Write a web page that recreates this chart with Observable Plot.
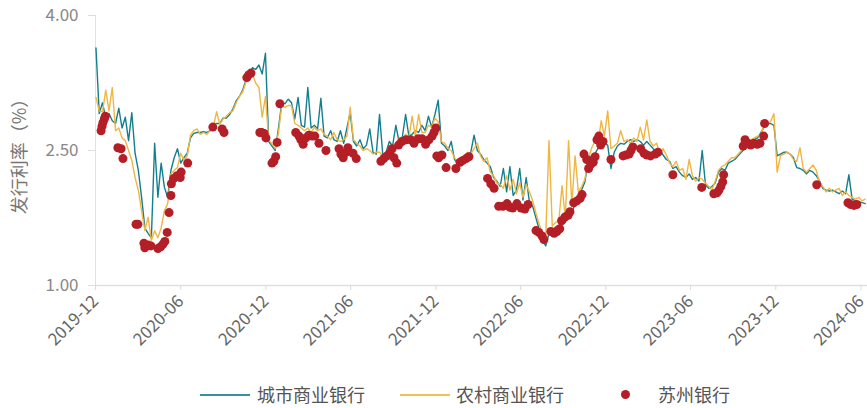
<!DOCTYPE html>
<html><head><meta charset="utf-8">
<script src="https://cdn.jsdelivr.net/npm/d3@7"></script>
<script src="https://cdn.jsdelivr.net/npm/@observablehq/plot@0.6"></script>
<style>
body{margin:0;background:#fff;font-family:"Noto Sans CJK SC","Noto Sans",sans-serif;}
#wrap{position:relative;width:867px;height:408px;overflow:hidden;}
.sw{position:absolute;height:2px;}
.lt{position:absolute;font-size:18px;color:#555;line-height:24px;white-space:nowrap;}
.dotsw{position:absolute;width:9px;height:9px;border-radius:50%;}
#ylabel{position:absolute;left:18px;top:152px;transform:translate(-50%,-50%) rotate(-90deg);font-size:18px;color:#777;white-space:nowrap;line-height:20px;}
</style></head><body>
<div id="wrap"><div id="chart"></div>
<div id="ylabel"></div>
<div id="legend"></div>
</div>
<script>
// weekly series starting 2019-12-02
const seriesNames = ["城市商业银行", "农村商业银行", "苏州银行"];
const yLabel = "发行利率（%）";
const cityBank = [
3.64,2.91,3.03,2.86,2.91,2.83,2.80,2.97,2.75,2.87,
2.61,2.92,2.47,2.28,1.98,1.64,1.58,1.53,2.58,1.98,
2.36,2.09,1.98,2.28,2.42,2.52,2.36,2.42,2.47,2.64,
2.69,2.70,2.70,2.71,2.70,2.72,2.78,2.80,2.80,2.86,
2.86,2.90,2.96,3.05,3.10,3.17,3.28,3.33,3.42,3.40,
3.45,3.35,3.58,2.60,2.55,2.50,2.75,3.03,3.02,3.07,
3.03,2.85,3.09,2.78,2.76,3.20,2.75,2.78,2.74,3.08,
2.66,2.64,2.72,2.62,2.60,2.72,2.58,2.75,2.92,2.60,
2.55,2.62,2.52,2.56,2.74,2.48,2.46,2.90,2.45,2.48,
2.60,2.55,2.78,2.60,2.65,2.90,2.66,2.68,2.72,2.70,
2.78,2.72,2.88,2.76,2.90,3.06,2.58,2.55,2.50,2.60,
2.40,2.36,2.35,2.42,2.45,2.48,2.67,2.50,2.46,2.40,
2.36,2.32,2.20,2.16,2.10,2.30,2.04,2.32,2.00,2.06,
2.30,1.95,2.20,1.92,1.88,1.75,1.62,1.50,1.44,1.58,
1.62,1.65,1.66,1.70,1.70,1.78,1.82,1.90,1.98,2.06,
2.15,2.38,2.44,2.46,2.52,2.60,2.58,2.56,2.30,2.48,
2.55,2.58,2.57,2.60,2.62,2.60,2.62,2.60,2.56,2.60,
2.56,2.52,2.48,2.50,2.45,2.40,2.38,2.30,2.32,2.26,
2.22,2.20,2.24,2.18,2.20,2.16,2.50,2.12,2.08,2.10,
2.14,2.26,2.30,2.28,2.36,2.38,2.40,2.44,2.48,2.52,
2.56,2.60,2.62,2.64,2.70,2.76,2.80,2.80,2.78,2.44,
2.46,2.48,2.48,2.46,2.42,2.31,2.30,2.28,2.24,2.28,
2.26,2.22,2.16,2.08,2.06,2.05,2.06,2.04,2.02,2.05,
2.02,2.23,1.96,1.94,1.93,1.92,1.91
];
const ruralBank = [
3.09,2.94,2.93,3.17,2.94,3.20,2.72,2.75,2.64,2.61,
2.50,2.39,2.20,2.06,1.83,1.61,1.76,1.50,1.61,1.53,
1.64,1.83,1.91,2.24,2.28,2.31,2.47,2.39,2.44,2.67,
2.72,2.74,2.68,2.70,2.68,2.72,2.76,2.93,2.79,2.85,
2.88,2.92,2.94,3.03,3.10,3.15,3.26,3.32,3.35,3.25,
3.20,2.87,3.10,2.62,2.57,2.52,2.70,3.00,2.98,3.00,
3.00,2.80,2.78,2.75,2.72,2.75,2.70,2.76,2.72,2.74,
2.68,2.66,2.62,2.70,2.62,2.60,2.62,2.66,2.98,2.62,
2.58,2.55,2.50,2.52,2.50,2.46,2.48,2.48,2.44,2.46,
2.50,2.52,2.58,2.64,2.62,2.68,2.64,2.88,2.66,2.90,
2.70,2.70,2.78,2.76,2.86,2.82,2.60,2.58,2.52,2.50,
2.42,2.38,2.40,2.44,2.48,2.46,2.52,2.58,2.44,2.38,
2.42,2.26,2.22,2.14,2.12,2.08,2.22,2.06,2.18,2.02,
2.14,1.98,2.12,2.04,1.94,1.80,1.68,1.58,1.55,2.61,
1.66,1.70,1.72,2.11,1.75,2.61,1.90,2.44,2.04,2.10,
2.18,2.40,2.52,2.60,2.56,2.83,2.66,2.94,2.52,2.55,
2.58,2.72,2.60,2.62,2.58,2.64,2.60,2.76,2.62,2.84,
2.60,2.55,2.58,2.46,2.52,2.45,2.36,2.32,2.38,2.28,
2.30,2.18,2.40,2.22,2.16,2.20,2.18,2.14,2.10,2.06,
2.16,2.28,2.32,2.34,2.38,2.42,2.42,2.46,2.50,2.54,
2.58,2.62,2.64,2.66,2.68,2.78,2.80,2.82,2.91,2.26,
2.44,2.46,2.48,2.46,2.40,2.38,2.53,2.30,2.26,2.30,
2.34,2.28,2.14,2.10,2.04,2.08,2.04,2.06,2.08,2.00,
2.04,2.00,1.98,1.96,1.98,1.94,1.96
];
// 苏州银行: issue time in weeks after 2019-12-02, and rate
const suzhouWeek = [
1.5,1.8,2.1,2.5,2.8,6.7,7.7,8.3,12.3,12.9,14.7,15.0,16.0,16.9,19.0,19.9,20.6,21.2,21.9,22.4,
23.0,23.2,23.9,24.8,25.8,26.1,28.2,35.9,38.7,39.3,46.3,46.9,47.5,50.3,50.9,51.5,52.1,54.0,54.6,55.2,
55.5,56.4,61.3,62.3,62.9,63.5,64.4,65.3,66.3,67.2,68.4,70.6,74.5,75.2,75.8,76.7,77.3,78.8,79.8,87.4,
88.3,89.3,90.2,90.8,91.4,92.3,92.9,93.9,95.1,96.6,97.5,98.8,100,101.2,102.1,103.1,103.7,104.3,104.6,105.2,
106.1,107.4,110.4,111.7,112.6,113.5,114.4,120.2,121.2,122.1,123.6,124.8,126.1,127.0,127.9,129.1,130.4,131.6,132.5,135,
135.9,136.8,137.4,139.6,140.5,141.4,142.3,142.9,143.9,144.8,145.4,146.6,147.5,148.5,149.1,149.7,150.6,151.2,151.8,152.5,
153.1,153.7,154.3,154.9,155.5,158.0,161.7,162.6,163.5,164.1,164.7,167.2,168.1,169.0,170.2,171.5,172.4,177.0,185.9,189.6,
190.5,191.1,191.7,192.3,192.6,198.5,199.1,200,200.9,201.8,202.8,203.7,204.9,205.2,221.2,230.7,231.6,232.5,233.4
];
const suzhouRate = [
2.72,2.77,2.81,2.85,2.88,2.53,2.52,2.41,1.68,1.68,1.47,1.42,1.45,1.44,1.41,1.43,1.46,1.49,1.59,1.81,
2.00,2.13,2.19,2.22,2.20,2.26,2.36,2.76,2.74,2.70,3.31,3.34,3.36,2.70,2.70,2.69,2.64,2.36,2.38,2.43,
2.59,3.02,2.70,2.66,2.62,2.57,2.64,2.67,2.66,2.66,2.58,2.50,2.52,2.46,2.42,2.48,2.53,2.47,2.41,2.38,
2.41,2.44,2.47,2.52,2.42,2.36,2.56,2.60,2.62,2.62,2.58,2.63,2.63,2.57,2.62,2.66,2.70,2.75,2.44,2.42,
2.45,2.31,2.30,2.37,2.39,2.41,2.43,2.19,2.13,2.08,1.88,1.88,1.91,1.87,1.86,1.91,1.86,1.85,1.90,1.61,
1.59,1.55,1.51,1.60,1.58,1.60,1.63,1.72,1.76,1.78,1.82,1.92,1.94,1.97,2.01,2.46,2.40,2.30,2.35,2.37,
2.43,2.62,2.66,2.56,2.60,2.40,2.44,2.45,2.46,2.50,2.54,2.52,2.47,2.45,2.44,2.46,2.48,2.23,2.09,2.02,
2.03,2.06,2.10,2.15,2.23,2.55,2.62,2.58,2.56,2.58,2.57,2.58,2.66,2.80,2.12,1.92,1.90,1.89,1.90
];
const xTickLabels = ["2019-12","2020-06","2020-12","2021-06","2021-12","2022-06","2022-12","2023-06","2023-12","2024-06"];
const yTicks = [1.00, 2.50, 4.00];

const colors = {"城市商业银行": "#137f8e", "农村商业银行": "#f0b641", "苏州银行": "#b41f27"};
const start = new Date(Date.UTC(2019, 11, 2));
const weekDate = i => d3.utcDay.offset(start, Math.round(i * 7));
const cityRows = cityBank.map((v, i) => ({date: weekDate(i), rate: v}));
const ruralRows = ruralBank.map((v, i) => ({date: weekDate(i), rate: v}));
const dotRows = suzhouWeek.map((w, i) => ({date: weekDate(w), rate: suzhouRate[i]}));
const xTicks = xTickLabels.map(s => d3.utcParse("%Y-%m")(s));
const xDomain = [new Date(Date.UTC(2019, 11, 1)), new Date(Date.UTC(2024, 5, 15))];

const chart = Plot.plot({
  width: 867, height: 360,
  marginLeft: 95, marginRight: 0, marginTop: 15, marginBottom: 75,
  style: {fontFamily: '"Noto Sans CJK SC","Noto Sans",sans-serif', background: "#fff", overflow: "visible"},
  x: {type: "utc", domain: xDomain},
  y: {domain: [1, 4]},
  marks: [
    Plot.ruleY([1], {stroke: "#e0e0e0", strokeWidth: 1.5}),
    Plot.ruleX([xDomain[0]], {stroke: "#e0e0e0", strokeWidth: 1}),
    Plot.axisY({ticks: yTicks, tickFormat: d3.format(".2f"), tickSize: 7, tickPadding: 10, fontSize: 17,
      stroke: "#dcdcdc", fill: "#888", label: null}),
    Plot.axisX({ticks: xTicks, tickFormat: d3.utcFormat("%Y-%m"), tickRotate: -45, tickSize: 5, tickPadding: 8,
      fontSize: 17, stroke: "#dcdcdc", fill: "#666", label: null}),
    Plot.lineY(cityRows, {x: "date", y: "rate", stroke: colors["城市商业银行"], strokeWidth: 1.4}),
    Plot.lineY(ruralRows, {x: "date", y: "rate", stroke: colors["农村商业银行"], strokeWidth: 1.4}),
    Plot.dot(dotRows, {x: "date", y: "rate", r: 4.5, fill: colors["苏州银行"], stroke: "none"})
  ]
});
document.getElementById("chart").appendChild(chart);
document.getElementById("ylabel").textContent = yLabel;

// legend
const legend = document.getElementById("legend");
const items = [
  {name: seriesNames[0], kind: "line", left: 200, textLeft: 257},
  {name: seriesNames[1], kind: "line", left: 400, textLeft: 456},
  {name: seriesNames[2], kind: "dot", left: 621, textLeft: 658}
];
for (const it of items) {
  if (it.kind === "line") {
    const s = document.createElement("div");
    s.className = "sw";
    s.style.cssText = `left:${it.left}px;top:394px;width:50px;background:${colors[it.name]};opacity:0.85;`;
    legend.appendChild(s);
  } else {
    const s = document.createElement("div");
    s.className = "dotsw";
    s.style.cssText = `left:${it.left}px;top:390px;background:${colors[it.name]};`;
    legend.appendChild(s);
  }
  const t = document.createElement("div");
  t.className = "lt";
  t.style.cssText = `left:${it.textLeft}px;top:382px;`;
  t.textContent = it.name;
  legend.appendChild(t);
}
</script>
</body></html>
